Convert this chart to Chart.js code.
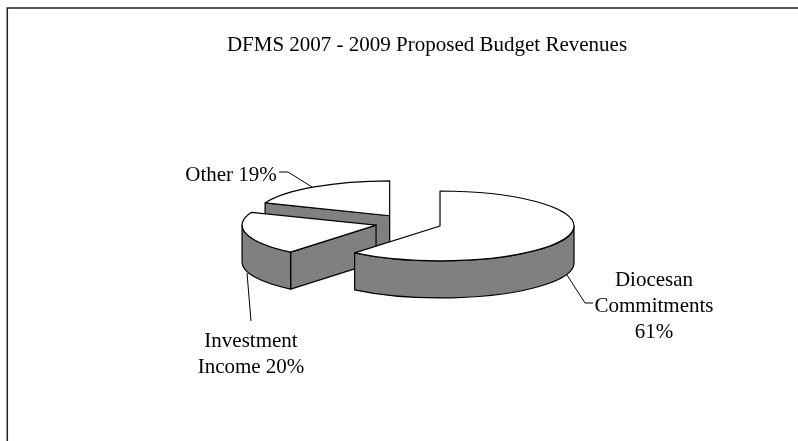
<!DOCTYPE html>
<html>
<head>
<meta charset="utf-8">
<style>html,body{margin:0;padding:0;background:#fff}canvas{display:block}</style>
<script src="https://cdn.jsdelivr.net/npm/chart.js@4/dist/chart.umd.min.js"></script>
</head>
<body>
<div style="width:798px;height:441px"><canvas id="c" width="798" height="441"></canvas></div>
<script>
const categories = ["Diocesan Commitments", "Investment Income", "Other"];
const values = [61, 20, 19];
const chartTitle = "DFMS 2007 - 2009 Proposed Budget Revenues";
const labelLines = [["Diocesan", "Commitments", "61%"], ["Investment", "Income 20%"], ["Other 19%"]];

const TILT = 0.261, DEPTH = 37, FONT = '21px "Liberation Serif"';
const labelAnchors = [[654, 286], [251, 347], [231, 181]];
const leaders = [[[567, 275], [585, 303], [593, 303]], [[247, 273], [251, 321]], [[279, 172], [288, 172], [312, 187]]];

function apex(arc) {
  const {x, y, startAngle, endAngle, outerRadius} = arc;
  const mid = (startAngle + endAngle) / 2, off = arc.options.offset / 4;
  return {ax: x + Math.cos(mid) * off, ay: y + Math.sin(mid) * off * TILT, r: outerRadius + off};
}
function drawWalls(ctx, arc) {
  const {ax, ay, r} = apex(arc);
  const rk = r * TILT;
  ctx.fillStyle = '#808080'; ctx.strokeStyle = '#000'; ctx.lineWidth = 1.2; ctx.lineJoin = 'round';
  const edges = [[arc.startAngle, -Math.cos(arc.startAngle)], [arc.endAngle, Math.cos(arc.endAngle)]];
  for (const [a, facing] of edges) {
    if (facing <= 0.001) continue;
    const px = ax + r * Math.cos(a), py = ay + rk * Math.sin(a);
    ctx.beginPath(); ctx.moveTo(ax, ay); ctx.lineTo(px, py);
    ctx.lineTo(px, py + DEPTH); ctx.lineTo(ax, ay + DEPTH); ctx.closePath();
    ctx.fill(); ctx.stroke();
  }
  const s = Math.max(arc.startAngle, 0), e = Math.min(arc.endAngle, Math.PI);
  if (e > s) {
    ctx.beginPath();
    ctx.ellipse(ax, ay, r, rk, 0, s, e);
    ctx.ellipse(ax, ay + DEPTH, r, rk, 0, e, s, true);
    ctx.closePath(); ctx.fill(); ctx.stroke();
  }
}
function drawTop(ctx, arc) {
  const {ax, ay, r} = apex(arc);
  ctx.save();
  ctx.translate(0, arc.y); ctx.scale(1, TILT); ctx.translate(0, -arc.y);
  arc.draw(ctx);
  ctx.restore();
  ctx.beginPath(); ctx.moveTo(ax, ay);
  ctx.ellipse(ax, ay, r, r * TILT, 0, arc.startAngle, arc.endAngle);
  ctx.closePath();
  ctx.fillStyle = '#fff'; ctx.fill();
  ctx.strokeStyle = '#000'; ctx.lineWidth = 1.2; ctx.lineJoin = 'round'; ctx.stroke();
}
const pie3d = {
  id: 'pie3d',
  beforeDatasetDraw(chart, args) {
    const ctx = chart.ctx, arcs = args.meta.data;
    [2, 1, 0].forEach(i => { ctx.save(); drawWalls(ctx, arcs[i]); drawTop(ctx, arcs[i]); ctx.restore(); });
    return false;
  },
  afterDraw(chart) {
    const ctx = chart.ctx;
    ctx.save();
    ctx.strokeStyle = '#222'; ctx.lineWidth = 1.5;
    ctx.beginPath(); ctx.moveTo(7.3, 441); ctx.lineTo(7.3, 8); ctx.lineTo(798, 8); ctx.stroke();
    ctx.strokeStyle = '#000'; ctx.lineWidth = 1;
    leaders.forEach(l => { ctx.beginPath(); l.forEach((p, i) => i ? ctx.lineTo(p[0], p[1]) : ctx.moveTo(p[0], p[1])); ctx.stroke(); });
    ctx.fillStyle = '#000'; ctx.font = FONT; ctx.textAlign = 'center'; ctx.textBaseline = 'alphabetic';
    ctx.fillText(chartTitle, 427, 51);
    labelLines.forEach((lines, i) => lines.forEach((t, j) => ctx.fillText(t, labelAnchors[i][0], labelAnchors[i][1] + j * 26)));
    ctx.restore();
  }
};
new Chart(document.getElementById('c'), {
  type: 'pie',
  data: {labels: categories, datasets: [{data: values, backgroundColor: '#ffffff', borderWidth: 0, offset: 134}]},
  options: {
    responsive: false, animation: false, rotation: 0, radius: 100.5,
    layout: {padding: {left: 19, top: 5}},
    plugins: {legend: {display: false}, tooltip: {enabled: false}, title: {display: false}}
  },
  plugins: [pie3d]
});
</script>
</body>
</html>
